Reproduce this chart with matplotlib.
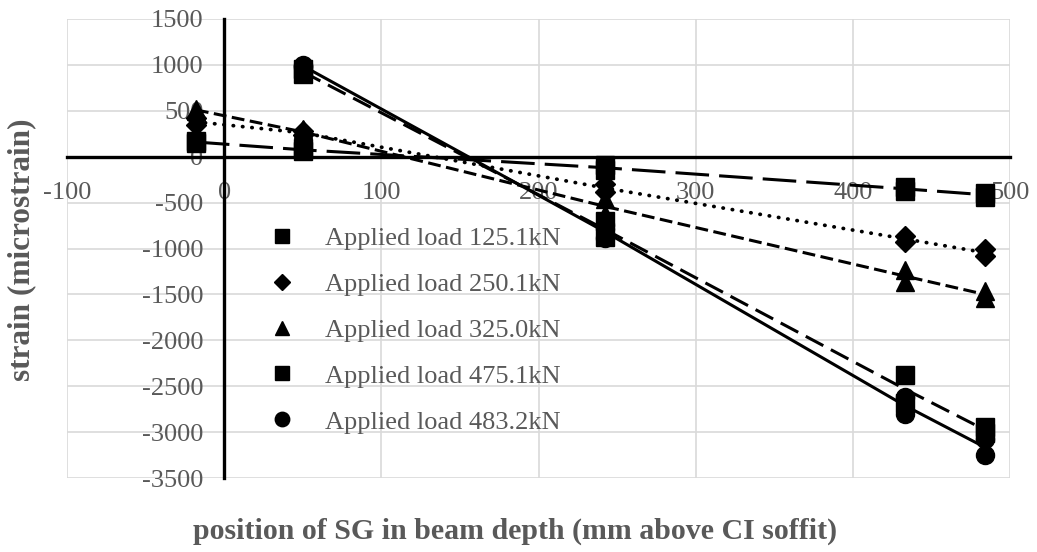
import numpy as np
import matplotlib
matplotlib.use("Agg")
import matplotlib.pyplot as plt

# strain gauge positions (mm above CI soffit)
sg_position = [-18, 50, 242, 433, 484]

# two gauges at each position, strain in microstrain
load_125_a = [170, 90, -90, -330, -390]
load_125_b = [150, 60, -150, -370, -440]
load_250_a = [420, 280, -300, -860, -1010]
load_250_b = [340, 240, -380, -930, -1080]
load_325_a = [520, 300, -460, -1230, -1460]
load_325_b = [500, 240, -620, -1370, -1540]
load_475_a = [np.nan, 900, -700, -2380, -2940]
load_475_b = [np.nan, 950, -880, -2680, -3010]
load_483_a = [np.nan, 980, -740, -2620, -3080]
load_483_b = [np.nan, 1000, -890, -2800, -3250]

labels = ["Applied load 125.1kN", "Applied load 250.1kN", "Applied load 325.0kN",
          "Applied load 475.1kN", "Applied load 483.2kN"]

series = [(load_125_a, load_125_b, "s", 13, (0, (11, 3.3))),
          (load_250_a, load_250_b, "D", 10, (0, (0.1, 2.4))),
          (load_325_a, load_325_b, "^", 13, (0, (4.2, 1.8))),
          (load_475_a, load_475_b, "s", 13, (0, (6.5, 2.8))),
          (load_483_a, load_483_b, "o", 13, "-")]

grey = "#595959"
plt.rcParams["font.family"] = ["Liberation Serif", "DejaVu Serif"]
plt.rcParams["axes.unicode_minus"] = False

fig = plt.figure(figsize=(10.37, 5.52), dpi=100)
ax = fig.add_axes([0.0646, 0.134, 0.9094, 0.8316])

x = np.array(sg_position, dtype=float)
for (a, b, marker, ms, ls), label in zip(series, labels):
    a = np.array(a, dtype=float)
    b = np.array(b, dtype=float)
    mean = (a + b) / 2
    ok = ~np.isnan(mean)
    lw = 2.7 if marker == "D" else 2.2
    line, = ax.plot(x[ok], mean[ok], color="black", lw=lw, linestyle=ls, zorder=3)
    if marker == "D":
        line.set_dash_capstyle("round")
    ax.plot(np.concatenate([x, x]), np.concatenate([a, b]), linestyle="none",
            marker=marker, ms=ms, color="black", label=label, zorder=4)

ax.set_xlim(-100, 500)
ax.set_ylim(-3500, 1500)
ax.set_xticks(np.arange(-100, 501, 100))
ax.set_yticks(np.arange(-3500, 1501, 500))
ax.grid(True, color="#d9d9d9", lw=1.2, zorder=0)
ax.set_axisbelow(True)

for side in ["top", "right"]:
    ax.spines[side].set_visible(False)
ax.spines["left"].set_position(("data", 0))
ax.spines["bottom"].set_position(("data", 0))
for side in ["left", "bottom"]:
    ax.spines[side].set_color("black")
    ax.spines[side].set_linewidth(2.4)
    ax.spines[side].set_zorder(2)

ax.tick_params(axis="both", length=0, labelsize=19, labelcolor=grey)
ax.tick_params(axis="y", pad=15)
ax.tick_params(axis="x", pad=18)

fig.text(0.021, 0.547, "strain (microstrain)", rotation=90, ha="center", va="center",
         fontsize=22.5, fontweight="bold", color=grey)
fig.text(0.497, 0.038, "position of SG in beam depth (mm above CI soffit)",
         ha="center", va="center", fontsize=21.5, fontweight="bold", color=grey)

leg = ax.legend(loc="upper left", bbox_to_anchor=(0.2025, 0.571), frameon=False,
                fontsize=19, labelcolor=grey, markerscale=0.8, handlelength=1.0,
                handletextpad=1.15, labelspacing=0.85, borderaxespad=0)

fig.savefig("out.png", dpi=100)
